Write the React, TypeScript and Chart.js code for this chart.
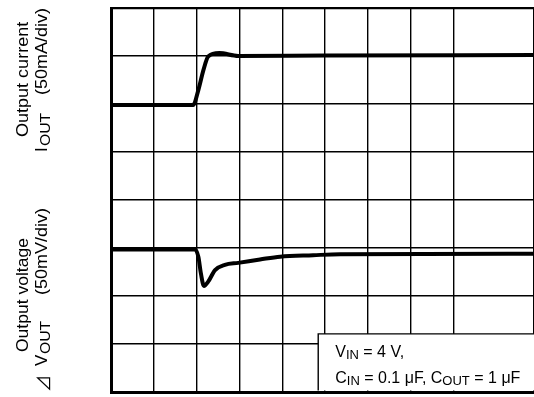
import React, { useEffect, useRef } from "react";
import { Chart, registerables } from "chart.js";

Chart.register(...registerables);

// time axis in divisions, amplitude in divisions (8 rows)
const X_MAX = 9.88;
const Y_MAX = 8;

const currentX = [0, 1.92, 2.04, 2.16, 2.27, 2.53, 2.97, 5.0, 9.88];
const currentY = [5.98, 5.98, 6.29, 6.71, 6.99, 7.06, 7.0, 7.01, 7.02];

const voltageX = [0, 1.96, 2.04, 2.1, 2.17, 2.27, 2.43, 2.66, 2.97, 3.48, 3.95, 4.72, 5.35, 9.88];
const voltageY = [2.97, 2.97, 2.82, 2.47, 2.21, 2.3, 2.54, 2.65, 2.69, 2.76, 2.82, 2.85, 2.87, 2.88];

const legendLine1 = [
  { t: "V" },
  { t: "IN", sub: true },
  { t: " = 4 V," },
];
const legendLine2 = [
  { t: "C" },
  { t: "IN", sub: true },
  { t: " = 0.1 \u03bcF, C" },
  { t: "OUT", sub: true },
  { t: " = 1 \u03bcF" },
];
// legend box corner in data units (x div, y div)
const LEGEND_X = 4.84;
const LEGEND_Y = 1.21;

const FONT = "'Liberation Sans', Arial, sans-serif";

function drawRotated(
  ctx: CanvasRenderingContext2D,
  text: string,
  x: number,
  yStart: number,
  size: number,
  stretch = 1,
  family = FONT
) {
  ctx.save();
  ctx.translate(x, yStart);
  ctx.rotate(-Math.PI / 2);
  ctx.scale(stretch, 1);
  ctx.font = `${size}px ${family}`;
  ctx.textAlign = "left";
  ctx.textBaseline = "alphabetic";
  ctx.fillStyle = "#000";
  ctx.fillText(text, 0, 0);
  ctx.restore();
}

function drawRun(
  ctx: CanvasRenderingContext2D,
  parts: { t: string; sub?: boolean }[],
  x: number,
  baseline: number
) {
  let cx = x;
  ctx.fillStyle = "#000";
  ctx.textAlign = "left";
  ctx.textBaseline = "alphabetic";
  for (const p of parts) {
    ctx.font = `${p.sub ? 13 : 16}px ${FONT}`;
    ctx.fillText(p.t, cx, baseline + (p.sub ? 2 : 0));
    cx += ctx.measureText(p.t).width;
  }
}

const annotations = {
  id: "annotations",
  afterDraw(chart: any) {
    const ctx: CanvasRenderingContext2D = chart.ctx;
    const xs = chart.scales.x;
    const ys = chart.scales.y;
    const area = chart.chartArea;
    // legend box
    const bx = xs.getPixelForValue(LEGEND_X);
    const by = ys.getPixelForValue(LEGEND_Y);
    ctx.save();
    ctx.fillStyle = "#fff";
    ctx.fillRect(bx, by, chart.width - bx, area.bottom - 1.5 - by);
    ctx.strokeStyle = "#000";
    ctx.lineWidth = 1.4;
    ctx.beginPath();
    ctx.moveTo(bx, area.bottom - 1.5);
    ctx.lineTo(bx, by);
    ctx.lineTo(chart.width, by);
    ctx.stroke();
    drawRun(ctx, legendLine1, bx + 17, by + 23);
    drawRun(ctx, legendLine2, bx + 17, by + 49);

    // axis labels (rotated)
    drawRotated(ctx, "Output current", 28, 137, 17, 1.06);
    drawRotated(ctx, "(50mA/div)", 47, 95, 17, 1.06);
    drawRotated(ctx, "I", 47, 152, 17);
    drawRotated(ctx, "OUT", 49.5, 146, 15, 1.05);

    drawRotated(ctx, "Output voltage", 28, 352, 17, 1.03);
    drawRotated(ctx, "(50mV/div)", 47, 295, 17, 1.06);
    drawRotated(ctx, "\u22bf", 50, 392, 17, 1, "'Noto Sans CJK JP', 'DejaVu Sans', sans-serif");
    drawRotated(ctx, "V", 47, 366, 17);
    drawRotated(ctx, "OUT", 49.5, 354, 15, 1.05);
    ctx.restore();
  },
};

export default function App() {
  const ref = useRef<HTMLCanvasElement>(null);
  useEffect(() => {
    document.body.style.margin = "0";
    const canvas = ref.current!;
    const chart = new Chart(canvas, {
      type: "line",
      data: {
        datasets: [
          {
            data: currentX.map((x, i) => ({ x, y: currentY[i] })),
            borderColor: "#000",
            borderWidth: 4,
            pointRadius: 0,
            cubicInterpolationMode: "monotone",
            fill: false,
          },
          {
            data: voltageX.map((x, i) => ({ x, y: voltageY[i] })),
            borderColor: "#000",
            borderWidth: 4,
            pointRadius: 0,
            cubicInterpolationMode: "monotone",
            fill: false,
          },
        ],
      },
      options: {
        animation: false,
        responsive: false,
        devicePixelRatio: 1,
        layout: { padding: { left: 111, top: 8, right: 0, bottom: 5 } },
        plugins: { legend: { display: false }, tooltip: { enabled: false } },
        scales: {
          x: {
            type: "linear",
            min: 0,
            max: X_MAX,
            ticks: { display: false, stepSize: 1 },
            grid: { color: "#000", lineWidth: 1.4, drawTicks: false },
            border: { display: true, color: "#000", width: 3 },
          },
          y: {
            type: "linear",
            min: 0,
            max: Y_MAX,
            ticks: { display: false, stepSize: 1 },
            grid: {
              color: "#000",
              lineWidth: (c: any) => (c.tick && c.tick.value === Y_MAX ? 2.2 : 1.4),
              drawTicks: false,
            },
            border: { display: true, color: "#000", width: 3 },
          },
        },
      },
      plugins: [annotations],
    });
    return () => chart.destroy();
  }, []);
  return (
    <div style={{ position: "absolute", left: 0, top: 0, width: 534, height: 397 }}>
      <canvas ref={ref} width={534} height={397} style={{ display: "block" }} />
    </div>
  );
}
